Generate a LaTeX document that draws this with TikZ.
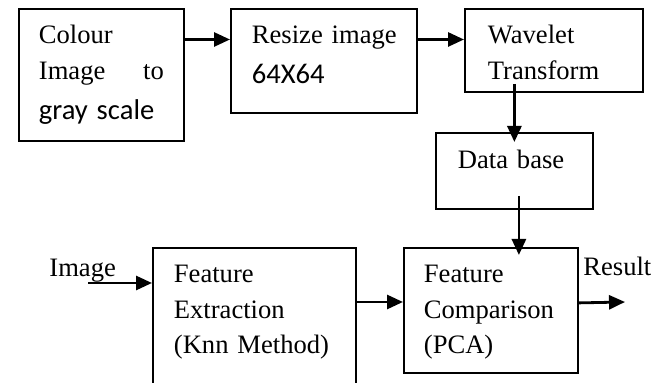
\documentclass[tikz,border=0pt]{standalone}
\usepackage{fontspec}
\setmainfont{Liberation Serif}
\newfontfamily\calibrifont{Carlito}
\usetikzlibrary{arrows.meta,calc}
\newcommand{\calibritext}[1]{{\calibrifont\fontsize{14.3}{17.75}\selectfont #1}}
\tikzset{
  stepbox/.style={
    rectangle, draw=black, line width=0.9pt, fill=white,
    anchor=north west, align=left, inner xsep=0pt, inner ysep=0pt,
    text height=17.5pt, font=\fontsize{13.3}{17.75}\selectfont
  },
  flowarrow/.style={-{Triangle[length=8pt,width=7pt]}, line width=1.4pt},
  plainlabel/.style={anchor=base west, inner sep=0pt, font=\fontsize{13.3}{17.75}\selectfont},
}

\begin{document}
\begin{tikzpicture}[x=0.5pt, y=-0.5pt]
  \useasboundingbox (0,0) rectangle (665,383);
  % top row
  \node[stepbox, minimum width=82.5pt, text width=62.5pt, text depth=48.5pt] (colour) at (18,8)
    {Colour\\ \leavevmode\hbox to\linewidth{Image\hfill to}\\[2.2pt] \calibritext{gray scale}};
  \node[stepbox, minimum width=93pt, text width=72pt, text depth=34.5pt] (resize) at (230,8)
    {\mbox{Resize image}\\[2.2pt] \calibritext{64X64}};
  \node[stepbox, minimum width=89pt, text width=66pt, text depth=24pt] (wave) at (464,8)
    {Wavelet\\ Transform};
  \node[stepbox, minimum width=78.5pt, text width=56.5pt, text height=18pt, text depth=20pt] (db) at (435,132)
    {Data base};
  % bottom row
  \node[stepbox, minimum width=101.5pt, text width=80.5pt, text depth=59pt] (ext) at (152,247)
    {Feature\\ Extraction\\ (Knn Method)};
  \node[stepbox, minimum width=87pt, text width=67pt, text depth=45pt] (comp) at (403,247)
    {Feature\\ Comparison\\ (PCA)};
  \node[plainlabel] (imglabel) at (49,277) {Image};
  \node[plainlabel] (reslabel) at (583,276) {Result};
  \coordinate (imgin) at (88,283);
  \coordinate (resout) at (625,302);

  \foreach \a/\b in {colour/resize,resize/wave}
    \draw[flowarrow] ([yshift=-15.75pt]\a.north east) -- ([yshift=-15.75pt]\b.north west);
  \draw[flowarrow] ($(db.north |- wave.south)+(0,4.5pt)$) -- ($(db.north)+(0,-5pt)$);
  \draw[flowarrow] ($(db.south)+(2.25pt,7pt)$) -- ($(db.south |- comp.north)+(2.25pt,-4pt)$);
  \draw[flowarrow] (imgin) -- ([yshift=-18pt]ext.north west);
  \draw[flowarrow] ([yshift=-27.5pt]ext.north east) -- ([yshift=-27.5pt]comp.north west);
  \draw[flowarrow] ([yshift=3.75pt]comp.east) -- (resout);
\end{tikzpicture}
\end{document}
